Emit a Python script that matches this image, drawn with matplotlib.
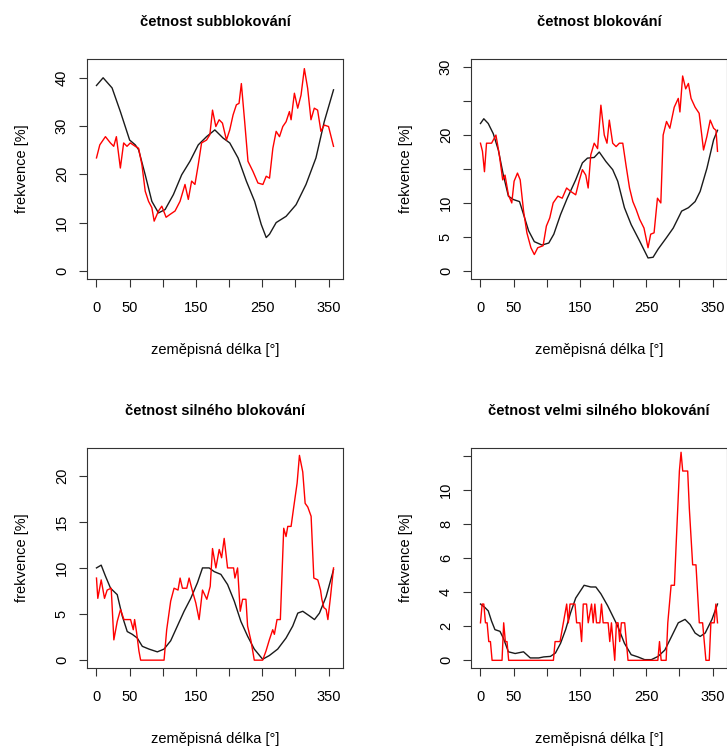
import matplotlib
matplotlib.use("Agg")
import matplotlib.pyplot as plt

plt.rcParams["font.family"] = ["Liberation Sans Narrow", "Liberation Sans", "DejaVu Sans"]

W, H = 727, 747

titles = [
    "četnost subblokování",
    "četnost blokování",
    "četnost silného blokování",
    "četnost velmi silného blokování",
]
xlabel = "zeměpisná délka [°]"
ylabel = "frekvence [%]"

x_ticks = [0, 50, 100, 150, 200, 250, 300, 350]
x_ticklabels = ["0", "50", "", "150", "", "250", "", "350"]

# subblocking
sub_black_x = [0, 10, 23.5, 36, 50, 58.5, 63.5, 73.5, 83.5, 93.5, 103.5, 116, 128.5, 141, 153.5,
               166, 178.5, 191, 201, 213.5, 226, 238.5, 248.5, 256, 261, 271, 286, 301, 316,
               331, 343.5, 357.5]
sub_black_y = [38.4, 40, 37.9, 33, 27.1, 26.1, 25.1, 19.9, 14.4, 12.0, 12.7, 15.8, 19.9, 22.7, 26.1,
               27.8, 29.2, 27.5, 26.5, 23.4, 18.6, 14.4, 9.6, 6.9, 7.6, 10.0, 11.3, 13.7, 17.9,
               23.4, 30.9, 37.5]
sub_red_x = [0, 5, 13.5, 21, 26, 30, 36, 41, 46, 51, 58.5, 63.5, 68.5, 73.5, 78.5, 83.5, 87, 93.5,
             98.5, 105, 111, 118.5, 126, 133.5, 138.5, 143.5, 148.5, 153.5, 158.5, 166, 171, 175,
             180, 185, 190, 196, 201, 206, 211, 215, 218.5, 223.5, 228.5, 236, 243.5, 251, 256,
             261, 266, 271, 276, 281, 286, 291, 293.5, 298.5, 303.5, 308.5, 313.5, 318.5, 323.5,
             328.5, 333.5, 338.5, 343.5, 350, 357.5]
sub_red_y = [23.4, 26.1, 27.8, 26.5, 25.8, 27.8, 21.3, 26.5, 25.8, 26.5, 25.8, 25.4, 22, 16.5, 14.4,
             13.1, 10.3, 12.4, 13.4, 11.1, 11.7, 12.4, 14.4, 17.9, 14.8, 18.6, 17.9, 22, 26.5, 27.1,
             28.2, 33.3, 29.9, 31.3, 30.6, 27.1, 29.2, 32.3, 34.4, 34.7, 38.8, 30.9, 22.7, 20.6,
             18.2, 17.9, 19.6, 19.2, 25.4, 28.9, 27.8, 29.9, 30.9, 33, 31.3, 36.8, 33.7, 36.4,
             41.9, 37.8, 31.3, 33.7, 33.3, 28.9, 30.2, 29.9, 25.8]

# blocking
blk_black_x = [0, 5, 11.7, 19.3, 26.9, 34.5, 42.1, 49.7, 58.9, 65, 72.6, 81.2, 92.8, 103, 110.6,
               120.8, 130.9, 143.6, 153.7, 161.3, 171.5, 179.1, 189.2, 199.4, 207, 217.1, 227.3,
               240, 252.7, 260.3, 267.9, 280.6, 290.7, 303.4, 313.6, 323.7, 331.3, 341.5, 351.6,
               357.5]
blk_black_y = [21.7, 22.4, 21.7, 20.2, 17.8, 14.1, 11, 10.5, 10.2, 8.3, 5.9, 4.3, 3.8, 4.1, 5.4,
               8.3, 10.7, 13.4, 15.9, 16.6, 16.7, 17.5, 16.1, 14.9, 13.2, 9.3, 6.8,
               4.4, 1.9, 2, 3.2, 4.9, 6.3, 8.8, 9.3, 10.2, 11.7, 15.1, 19.3, 20.7]
blk_red_x = [0, 3, 6, 9.1, 16.7, 23.3, 28.4, 33.5, 37, 42.1, 47.2, 50.7, 55.8, 59.9, 65, 70, 76.1,
             81.2, 86.3, 94.4, 99.4, 104.5, 109.6, 116.7, 123.3, 129.9, 136, 143.6, 148.7, 153.7,
             158.8, 162.4, 166.4, 171.5, 176.6, 181.6, 186.7, 190.8, 194.3, 199.4, 204.5, 209.5,
             214.6, 219.7, 224.8, 229.8, 234.9, 240, 246.6, 252.7, 256.7, 261.8, 266.9, 272,
             275.5, 280.6, 285.6, 292.2, 298.3, 300.8, 304.9, 309.5, 313.6, 317.6, 323.7, 329.8,
             336.4, 341.5, 346.5, 351.6, 355.2, 357.5]
blk_red_y = [18.8, 17.6, 14.6, 18.8, 18.8, 20, 17.1, 13.4, 14.1, 11.2, 10, 13.2, 14.4, 13.4, 8.8,
             5.6, 3.4, 2.4, 3.4, 3.7, 6.6, 7.8, 10, 11, 10.7, 12.2, 11.7, 11.2, 13.2, 14.9, 14.1,
             12.2, 17.1, 18.8, 18, 24.4, 20, 18.8, 22.2, 18.8, 18.3, 18.8, 18.8, 15.4, 12.2, 10.2,
             9, 7.6, 6.3, 3.4, 5.4, 5.6, 10.7, 10, 20, 22, 21, 24.1, 25.4, 23.4, 28.7, 26.8, 27.6,
             25.4, 24.1, 23.2, 17.8, 19.8, 22.2, 21, 20.7, 17.6]

# strong blocking
str_black_x = [0, 7.1, 13.6, 21.2, 31.3, 38.8, 46.4, 54, 61.5, 69.1, 79.2, 91.8, 101.9, 111.9, 122,
               132.1, 142.2, 152.3, 159.9, 169.9, 177.5, 187.6, 197.7, 207.8, 217.8, 227.9, 238,
               250.6, 260.7, 273.3, 285.9, 296, 303.6, 311.1, 321.2, 328.8, 336.3, 346.4, 357.5]
str_black_y = [10, 10.3, 9.1, 7.8, 7.1, 4.8, 3.1, 2.8, 2.4, 1.5, 1.2, 0.9, 1.2, 2.1, 3.7, 5.3, 6.7,
               8.4, 10, 10, 9.6, 9.3, 8.2, 6.4, 4.2, 2.6, 1.2, 0.1, 0.5, 1.2, 2.4, 3.7, 5.1, 5.3,
               4.8, 4.4, 5.1, 6.9, 9.8]
str_red_x = [0, 2, 7.1, 12.1, 16.1, 22.2, 26.2, 31.3, 36.3, 41.4, 51.4, 55.5, 57.5, 60.5, 64, 66.6,
             101.9, 105.9, 111.9, 117, 123, 126.1, 129.6, 136.2, 139.7, 144.7, 149.8, 154.8,
             159.9, 166.4, 171.5, 175, 180.1, 185.1, 188.7, 192.6, 197.7, 206.8, 208.8, 212.8,
             216.8, 220.4, 225.4, 227.9, 233, 238, 250.6, 255.7, 260.7, 265.8, 268.3, 272.3,
             277.3, 282.4, 285.9, 288.5, 293.5, 297.5, 302.6, 306.1, 311.1, 314.7, 318.7, 323.7,
             327.8, 333.8, 337.9, 339.9, 342.9, 346.4, 349, 353, 357.5]
str_red_y = [8.9, 6.7, 8.7, 6.7, 7.6, 7.8, 2.2, 4.2, 5.5, 4.4, 4.4, 3.3, 4.4, 3, 1, 0,
             0, 3.3, 6.4, 7.8, 7.6, 8.9, 7.8, 7.8, 8.9, 7.5, 6.2, 4.4,
             7.6, 6.6, 8, 12.1, 10, 12, 11.1, 13.2, 10, 10, 8.9, 10,
             5.3, 6.6, 6.6, 3.7, 2.1, 0, 0, 1, 2.2, 3.3, 2.8, 4.4,
             4.4, 14.3, 13.4, 14.5, 14.5, 16.6, 19.2, 22.2, 20.4, 17, 16.6, 15.6,
             8.9, 8.7, 7.6, 6.6, 5.7, 5.5, 4.4, 6.9, 10]

# very strong blocking
vst_black_x = [0, 6.6, 11.7, 16.7, 21.8, 29.4, 34.5, 42.1, 52.3, 64.9, 75.1, 87.8, 95.4, 105.5,
               113.1, 120.8, 128.4, 136, 143.6, 151.2, 156.3, 166.4, 174, 181.6, 191.8, 199.4,
               207, 217.1, 227.3, 237.4, 247.6, 257.7, 267.9, 278, 288.2, 298.3, 308.5, 316.1,
               323.7, 331.3, 338.9, 349.1, 357.5]
vst_black_y = [3.3, 3.1, 2.9, 2.3, 1.8, 1.7, 1.3, 0.5, 0.4, 0.5, 0.14, 0.14, 0.2, 0.23,
               0.43, 1, 1.8, 2.8, 3.65, 4.1, 4.4, 4.3, 4.3, 3.9, 3.2, 2.6,
               2, 1, 0.33, 0.2, 0.04, 0.04, 0.23, 0.6, 1.4, 2.2, 2.4, 2.1,
               1.6, 1.4, 1.6, 2.4, 3.3]
vst_red_x = [0, 2.5, 5, 7.5, 10, 12.5, 15, 17.5, 32.5, 35, 37.5, 40, 42.5, 45, 110, 112.5, 120,
             125, 130, 132.5, 135, 142.5, 145, 150, 152.5, 155, 160, 162.5, 167.5, 170, 172.5,
             175, 180, 182.5, 185, 192.5, 195, 197.5, 200, 202.5, 205, 207.5, 210, 212.5, 217.5,
             220, 222.5, 225, 267.5, 270, 272.5, 280, 282.5, 287.5, 292.5, 295, 300, 302.5,
             305, 307.5, 312.5, 315, 320, 325, 330, 335, 340, 345, 347.5, 352.5, 355, 357.5]
vst_red_y = [2.2, 3.3, 3.3, 2.2, 2.2, 1.1, 1.1, 0, 0, 2.2, 1.1, 1.1, 0, 0, 0, 1.1, 1.1,
             2.2, 3.3, 2.2, 3.3, 3.3, 2.2, 2.2, 1.1, 3.3, 3.3, 2.2, 3.3, 2.2, 3.3,
             2.2, 2.2, 3.3, 2.2, 2.2, 1.1, 2.2, 1.1, 0, 2.2, 2.2, 1.1, 2.2, 2.2,
             1.1, 0, 0, 0, 1.1, 0, 0, 2.2, 4.4, 4.4, 6.7, 11.1, 12.2,
             11.1, 11.1, 11.1, 8.9, 5.6, 5.6, 2.2, 2.2, 0, 0, 2.2, 2.2, 3.3, 2.2]

panels = [
    (sub_black_x, sub_black_y, sub_red_x, sub_red_y, (-1.69, 43.89), [0, 10, 20, 30, 40],
     ["0", "10", "20", "30", "40"]),
    (blk_black_x, blk_black_y, blk_red_x, blk_red_y, (-1.2, 31.2), [0, 5, 10, 15, 20, 25, 30],
     ["0", "5", "10", "", "20", "", "30"]),
    (str_black_x, str_black_y, str_red_x, str_red_y, (-0.85, 23.0), [0, 5, 10, 15, 20],
     ["0", "5", "10", "15", "20"]),
    (vst_black_x, vst_black_y, vst_red_x, vst_red_y, (-0.45, 12.45), [0, 2, 4, 6, 8, 10, 12],
     ["0", "2", "4", "6", "8", "10", ""]),
]

# box positions in pixels: left, top
boxes = [(87, 59), (471, 59), (87, 448), (471, 448)]
bw, bh = 256, 220

fig = plt.figure(figsize=(W / 100, H / 100), dpi=100)

for (bx, by, rx, ry, ylim, yt, ytl), (left, top), title in zip(panels, boxes, titles):
    ax = fig.add_axes([left / W, 1 - (top + bh) / H, bw / W, bh / H])
    ax.plot(bx, by, color="#1a1a1a", lw=1.0)
    ax.plot(rx, ry, color="#ff0000", lw=1.0)
    ax.set_xlim(-14.3, 371.8)
    ax.set_ylim(*ylim)
    ax.set_xticks(x_ticks)
    ax.set_xticklabels(x_ticklabels)
    ax.set_yticks(yt)
    ax.set_yticklabels(ytl, rotation=90, va="center")
    ax.tick_params(direction="out", length=6, width=0.8, color="#333333",
                   labelsize=10.5)
    ax.tick_params(axis="x", pad=10)
    ax.tick_params(axis="y", pad=7)
    for s in ax.spines.values():
        s.set_color("#333333")
        s.set_linewidth(0.8)
    ax.set_title(title, fontsize=10.5, fontweight="bold", pad=24)
    ax.set_xlabel(xlabel, fontsize=10.5, labelpad=20)
    ax.set_ylabel(ylabel, fontsize=10.5, labelpad=19)

fig.savefig("out.png", dpi=100)
